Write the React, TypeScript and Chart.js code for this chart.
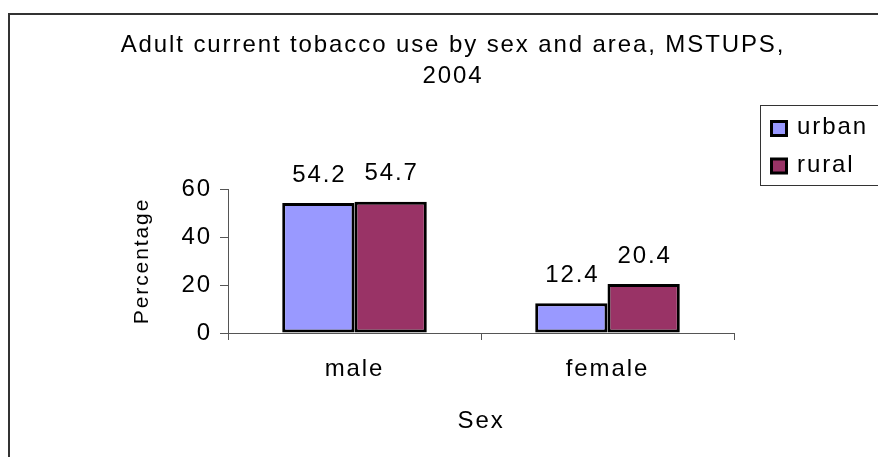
import { useEffect, useRef } from "react";
import { Chart, registerables } from "chart.js";

Chart.register(...registerables);

const categories = ["male", "female"];
const urbanValues = [54.2, 12.4];
const ruralValues = [54.7, 20.4];
const seriesNames = ["urban", "rural"];
const seriesColors = ["#9999FF", "#993366"];
const titleLines = ["Adult current tobacco use by sex and area, MSTUPS,", "2004"];
const yTicks = [0, 20, 40, 60];
const xAxisTitle = "Sex";
const yAxisTitle = "Percentage";

const FONT = "'Liberation Sans', Arial, Helvetica, sans-serif";
const SPACING = "1.9px";
const AXIS_COLOR = "#555";

const overlayPlugin = {
  id: "overlay",
  beforeDraw(chart: any) {
    const ctx = chart.ctx;
    ctx.letterSpacing = SPACING;
    ctx.save();
    ctx.strokeStyle = "#333";
    ctx.lineWidth = 2;
    ctx.strokeRect(9, 14, 1000, 1000);
    ctx.restore();
  },
  afterDraw(chart: any) {
    const ctx = chart.ctx;
    ctx.save();
    ctx.letterSpacing = SPACING;
    ctx.fillStyle = "#000";
    ctx.font = `24px ${FONT}`;
    ctx.textAlign = "center";
    ctx.textBaseline = "alphabetic";
    titleLines.forEach((line, i) => ctx.fillText(line, 453, 52 + i * 31));

    // data labels
    ctx.textBaseline = "middle";
    chart.data.datasets.forEach((ds: any, di: number) => {
      const meta = chart.getDatasetMeta(di);
      meta.data.forEach((bar: any, i: number) => {
        ctx.fillText(String(ds.data[i]), bar.x + 0.95, bar.y - 28);
      });
    });

    // legend
    const lx = 760;
    const ly = 105;
    ctx.fillStyle = "#fff";
    ctx.fillRect(lx, ly, 130, 80);
    ctx.strokeStyle = "#333";
    ctx.lineWidth = 1;
    ctx.strokeRect(lx + 0.5, ly + 0.5, 130, 80);
    const markerCenters = [128.5, 166];
    const textCenters = [127.6, 165.6];
    ctx.textAlign = "left";
    chart.data.datasets.forEach((ds: any, di: number) => {
      const yc = markerCenters[di];
      ctx.fillStyle = "#000";
      ctx.fillRect(770, yc - 8.5, 18, 17);
      ctx.fillStyle = ds.backgroundColor;
      ctx.fillRect(773, yc - 5.5, 12, 11);
      ctx.fillStyle = "#000";
      ctx.fillText(ds.label, 797, textCenters[di]);
    });
    ctx.restore();
  },
};

export default function App() {
  const canvasRef = useRef<HTMLCanvasElement | null>(null);

  useEffect(() => {
    if (!canvasRef.current) return;
    Chart.defaults.font.family = FONT;
    const chart = new Chart(canvasRef.current, {
      type: "bar",
      data: {
        labels: categories,
        datasets: [
          {
            label: seriesNames[0],
            data: urbanValues,
            backgroundColor: seriesColors[0],
            borderColor: "#000",
            borderWidth: 3,
            borderSkipped: false,
            categoryPercentage: 2 / 3.5,
            barPercentage: 1,
          },
          {
            label: seriesNames[1],
            data: ruralValues,
            backgroundColor: seriesColors[1],
            borderColor: "#000",
            borderWidth: 3,
            borderSkipped: false,
            categoryPercentage: 2 / 3.5,
            barPercentage: 1,
          },
        ],
      },
      options: {
        animation: false,
        responsive: true,
        maintainAspectRatio: false,
        events: [],
        layout: { padding: { left: 122, top: 189, right: 144, bottom: 0 } },
        plugins: {
          legend: { display: false },
          title: { display: false },
          tooltip: { enabled: false },
        },
        scales: {
          x: {
            type: "category",
            offset: true,
            grid: {
              display: true,
              offset: true,
              drawOnChartArea: false,
              drawTicks: true,
              tickLength: 7,
              color: AXIS_COLOR,
              lineWidth: 1,
            },
            border: { display: true, color: AXIS_COLOR, width: 1 },
            ticks: {
              color: "#000",
              font: { family: FONT, size: 24 },
              padding: 15,
              maxRotation: 0,
            },
            title: {
              display: true,
              text: xAxisTitle,
              color: "#000",
              font: { family: FONT, size: 24 },
              padding: { top: 0, bottom: 21 },
            },
            afterFit: (s: any) => {
              s.height = 124;
            },
          },
          y: {
            min: 0,
            max: 60,
            afterBuildTicks: (s: any) => {
              s.ticks = yTicks.map((v) => ({ value: v }));
            },
            grid: {
              drawOnChartArea: false,
              drawTicks: true,
              tickLength: 8,
              color: AXIS_COLOR,
            },
            border: { display: true, color: AXIS_COLOR, width: 1 },
            ticks: {
              color: "#000",
              font: { family: FONT, size: 24 },
              padding: 8,
            },
            title: {
              display: true,
              text: yAxisTitle,
              color: "#000",
              font: { family: FONT, size: 21 },
              padding: { top: 8, bottom: 0 },
            },
            afterFit: (s: any) => {
              s.width = 106;
            },
          },
        },
      } as any,
      plugins: [overlayPlugin],
    });
    return () => chart.destroy();
  }, []);

  return (
    <div style={{ position: "absolute", left: 0, top: 0, width: 878, height: 457 }}>
      <canvas ref={canvasRef} />
    </div>
  );
}
